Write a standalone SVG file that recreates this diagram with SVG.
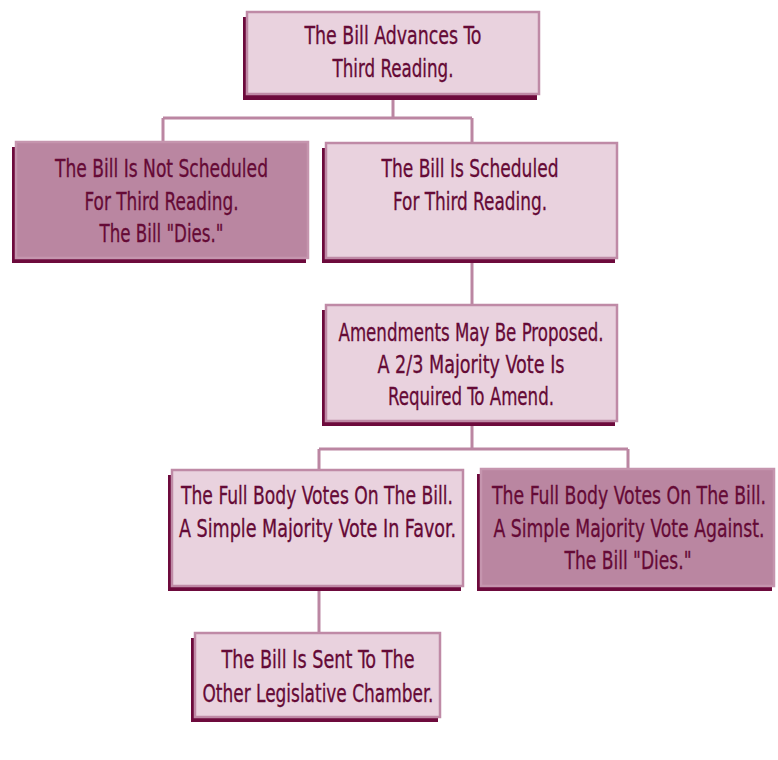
<svg xmlns="http://www.w3.org/2000/svg" width="778" height="760" viewBox="0 0 778 760">
<style>
.sh{fill:#6d0a3c}
.lt{fill:#e9d2de;stroke:#bf8aa6;stroke-width:2.5}
.dk{fill:#ba86a1;stroke:#c595ae;stroke-width:2.5}
.t{font-family:"DejaVu Sans Condensed","DejaVu Sans",sans-serif;font-size:20px;fill:#650a36;stroke:#650a36;stroke-width:0.25;text-anchor:middle}
.c{fill:none;stroke:#bb86a2;stroke-width:3}
</style>
<rect width="778" height="760" fill="#ffffff"/>
<g id="connectors">
<path class="c" d="M393 100V118M163 118H472M163 118V142M472 118V143"/>
<path class="c" d="M472 263V305"/>
<path class="c" d="M472 425V449M319 449H628M319 449V470M628 449V469"/>
<path class="c" d="M319 590V633"/>
</g>
<g id="n1">
<rect class="sh" x="243" y="17" width="294" height="83"/>
<rect class="lt" x="247" y="12" width="292" height="82"/>
<text class="t" transform="translate(393 44) scale(1 1.2)" textLength="177" lengthAdjust="spacingAndGlyphs">The Bill Advances To</text>
<text class="t" transform="translate(393 77) scale(1 1.2)" textLength="121" lengthAdjust="spacingAndGlyphs">Third Reading.</text>
</g>
<g id="n2">
<rect class="sh" x="12" y="147" width="294" height="116"/>
<rect class="dk" x="16" y="142" width="292" height="116"/>
<text class="t" transform="translate(161.5 177) scale(1 1.2)" textLength="213" lengthAdjust="spacingAndGlyphs">The Bill Is Not Scheduled</text>
<text class="t" transform="translate(161.5 210) scale(1 1.2)" textLength="154" lengthAdjust="spacingAndGlyphs">For Third Reading.</text>
<text class="t" transform="translate(161.5 242) scale(1 1.2)" textLength="124" lengthAdjust="spacingAndGlyphs">The Bill "Dies."</text>
</g>
<g id="n3">
<rect class="sh" x="322" y="148" width="293" height="115"/>
<rect class="lt" x="326" y="143" width="291" height="115"/>
<text class="t" transform="translate(470 177) scale(1 1.2)" textLength="177" lengthAdjust="spacingAndGlyphs">The Bill Is Scheduled</text>
<text class="t" transform="translate(470 210) scale(1 1.2)" textLength="154" lengthAdjust="spacingAndGlyphs">For Third Reading.</text>
</g>
<g id="n4">
<rect class="sh" x="322" y="310" width="293" height="116"/>
<rect class="lt" x="326" y="305" width="291" height="116"/>
<text class="t" transform="translate(471 341) scale(1 1.2)" textLength="265" lengthAdjust="spacingAndGlyphs">Amendments May Be Proposed.</text>
<text class="t" transform="translate(471 373) scale(1 1.2)" textLength="187" lengthAdjust="spacingAndGlyphs">A 2/3 Majority Vote Is</text>
<text class="t" transform="translate(471 405) scale(1 1.2)" textLength="166" lengthAdjust="spacingAndGlyphs">Required To Amend.</text>
</g>
<g id="n5">
<rect class="sh" x="168" y="475" width="293" height="116"/>
<rect class="lt" x="172" y="470" width="291" height="116"/>
<text class="t" transform="translate(317 504) scale(1 1.2)" textLength="272" lengthAdjust="spacingAndGlyphs">The Full Body Votes On The Bill.</text>
<text class="t" transform="translate(317.5 537) scale(1 1.2)" textLength="277" lengthAdjust="spacingAndGlyphs">A Simple Majority Vote In Favor.</text>
</g>
<g id="n6">
<rect class="sh" x="477" y="474" width="295" height="117"/>
<rect class="dk" x="481" y="469" width="293" height="117"/>
<text class="t" transform="translate(629 504) scale(1 1.2)" textLength="274" lengthAdjust="spacingAndGlyphs">The Full Body Votes On The Bill.</text>
<text class="t" transform="translate(629 537) scale(1 1.2)" textLength="271" lengthAdjust="spacingAndGlyphs">A Simple Majority Vote Against.</text>
<text class="t" transform="translate(628 569) scale(1 1.2)" textLength="127" lengthAdjust="spacingAndGlyphs">The Bill "Dies."</text>
</g>
<g id="n7">
<rect class="sh" x="191" y="638" width="247" height="84"/>
<rect class="lt" x="195" y="633" width="245" height="84"/>
<text class="t" transform="translate(318 668) scale(1 1.2)" textLength="193" lengthAdjust="spacingAndGlyphs">The Bill Is Sent To The</text>
<text class="t" transform="translate(318 702) scale(1 1.2)" textLength="231" lengthAdjust="spacingAndGlyphs">Other Legislative Chamber.</text>
</g>
</svg>
